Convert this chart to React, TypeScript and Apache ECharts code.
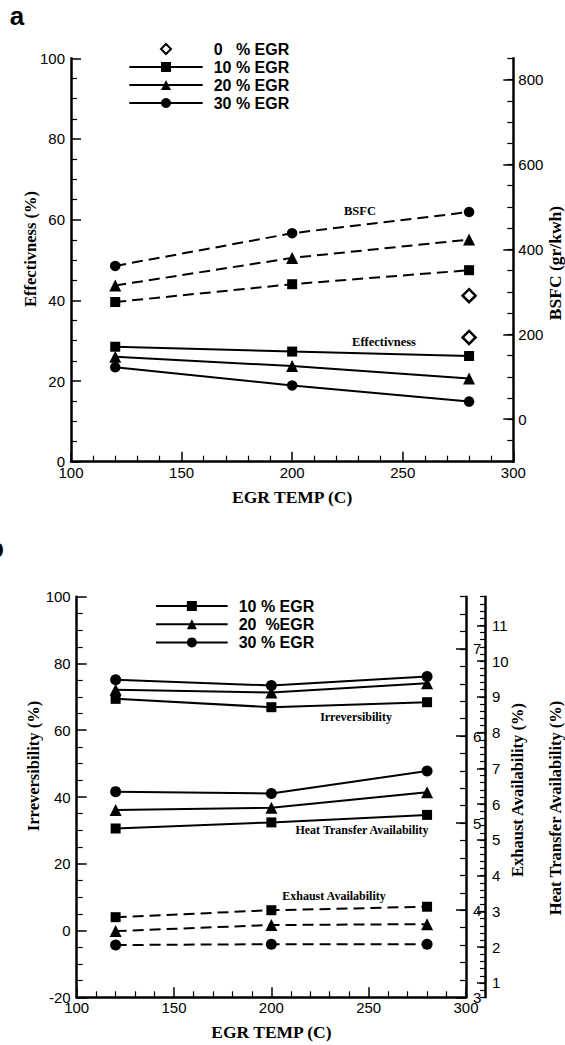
import React, { useEffect, useRef } from "react";
import * as echarts from "echarts";

// ---------- data (chart a) ----------
const tempsA = [120, 200, 280];
const effect10 = [28.5, 27.3, 26.2];
const effect20 = [26.0, 23.7, 20.6];
const effect30 = [23.4, 18.9, 14.9];
const bsfc10 = [276, 318, 351];
const bsfc20 = [315, 380, 423];
const bsfc30 = [361, 438, 488];
const egr0Temp = [280];
const effect0 = [30.8];
const bsfc0 = [291];

// ---------- data (chart b) ----------
const tempsB = [120, 200, 280];
const irr10 = [69.4, 66.9, 68.4];
const irr20 = [72.1, 71.3, 74.1];
const irr30 = [75.1, 73.4, 76.1];
const heat10 = [5.32, 5.49, 5.7];
const heat20 = [5.84, 5.9, 6.33];
const heat30 = [6.35, 6.3, 6.93];
const exh10 = [3.92, 4.0, 4.04];
const exh20 = [3.76, 3.83, 3.84];
const exh30 = [3.6, 3.61, 3.61];

// ---------- tick labels ----------
const bsfcTicks = [0, 200, 400, 600, 800];
const exhTicks = [3, 4, 5, 6, 7];
const heatTicks = [1, 2, 3, 4, 5, 6, 7, 8, 9, 10, 11];

const legendA = ["0\u00a0\u00a0\u00a0% EGR", "10 % EGR", "20 % EGR", "30 % EGR"];
const legendB = ["10 % EGR", "20\u00a0\u00a0%EGR", "30 % EGR"];

const SANS = "Liberation Sans, Arial, Helvetica, sans-serif";
const SERIF = "Liberation Serif, Times New Roman, serif";

const pair = (xs: number[], ys: number[]) => xs.map((x, i) => [x, ys[i]]);

function lineSeries(
  name: string,
  xi: number,
  yi: number,
  data: number[][],
  symbol: string,
  size: number,
  dashed: boolean
) {
  return {
    type: "line",
    name,
    xAxisIndex: xi,
    yAxisIndex: yi,
    data,
    symbol,
    symbolSize: size,
    showSymbol: true,
    silent: true,
    lineStyle: { color: "#000", width: 2, type: dashed ? [11, 6] : "solid" },
    itemStyle: { color: "#000" },
    emphasis: { disabled: true },
  };
}

function diamondSeries(name: string, yi: number, data: number[][]) {
  return {
    type: "line",
    name,
    xAxisIndex: 0,
    yAxisIndex: yi,
    data,
    symbol: "diamond",
    symbolSize: 13,
    showSymbol: true,
    silent: true,
    lineStyle: { width: 0, opacity: 0 },
    itemStyle: { color: "#fff", borderColor: "#000", borderWidth: 2.5 },
    emphasis: { disabled: true },
  };
}

function xAxis(gridIndex: number, title: string, gap: number) {
  return {
    type: "value",
    gridIndex,
    min: 100,
    max: 300,
    interval: 50,
    name: title,
    nameLocation: "middle",
    nameGap: gap,
    nameTextStyle: { color: "#000", fontFamily: SERIF, fontWeight: "bold", fontSize: 17.5 },
    axisLine: { show: true, onZero: false, lineStyle: { color: "#000", width: 2.5 } },
    axisTick: { show: true, inside: true, length: 10, lineStyle: { color: "#000", width: 1.5 } },
    minorTick: { show: true, splitNumber: 5, length: 6, lineStyle: { color: "#000", width: 1.2 } },
    axisLabel: { color: "#000", fontSize: 15, fontFamily: SANS, margin: 3 },
    splitLine: { show: false },
    minorSplitLine: { show: false },
  };
}

function leftAxis(gridIndex: number, min: number, max: number) {
  return {
    type: "value",
    gridIndex,
    position: "left",
    min,
    max,
    interval: 20,
    axisLine: { show: true, onZero: false, lineStyle: { color: "#000", width: 2.5 } },
    axisTick: { show: true, inside: true, length: 10, lineStyle: { color: "#000", width: 1.5 } },
    minorTick: { show: true, splitNumber: 4, length: 6, lineStyle: { color: "#000", width: 1.2 } },
    axisLabel: { color: "#000", fontSize: 15, fontFamily: SANS, margin: 6 },
    splitLine: { show: false },
    minorSplitLine: { show: false },
  };
}

function rightMajor(gridIndex: number, min: number, max: number, ticks: number[], offset: number, len: number, margin: number) {
  return {
    type: "value",
    gridIndex,
    position: "right",
    offset,
    min,
    max,
    axisLine: { show: true, onZero: false, lineStyle: { color: "#000", width: 2.5 } },
    axisTick: { show: true, inside: true, length: len, customValues: ticks, lineStyle: { color: "#000", width: 1.5 } },
    axisLabel: { show: true, color: "#000", fontSize: 15, fontFamily: SANS, margin, customValues: ticks },
    splitLine: { show: false },
  };
}

function rightMinor(gridIndex: number, min: number, max: number, interval: number, offset: number, len: number) {
  return {
    type: "value",
    gridIndex,
    position: "right",
    offset,
    min,
    max,
    interval,
    axisLine: { show: false, onZero: false },
    axisTick: { show: true, inside: true, length: len, lineStyle: { color: "#000", width: 1.2 } },
    axisLabel: { show: false },
    splitLine: { show: false },
  };
}

function txt(text: string, x: number, y: number, font: string, rotation = 0) {
  return {
    type: "text",
    x,
    y,
    rotation,
    silent: true,
    style: { text, x: 0, y: 0, font, fill: "#000", align: "center", verticalAlign: "middle" },
  };
}

export default function App() {
  const ref = useRef<HTMLDivElement>(null);

  useEffect(() => {
    document.body.style.margin = "0";
    const chart = echarts.init(ref.current!, null, { renderer: "svg" });

    const legendCommon = {
      orient: "vertical",
      padding: 0,
      itemHeight: 12.5,
      itemGap: 2,
      selectedMode: false,
      textStyle: {
        color: "#000",
        fontSize: 16,
        fontWeight: "bold",
        fontFamily: SANS,
        lineHeight: 12,
        padding: [0, 0, 0, 6],
      },
    };

    const option = {
      animation: false,
      backgroundColor: "#fff",
      grid: [
        { left: 71, top: 58.3, width: 442.3, height: 403.4 },
        { left: 76.7, top: 596.7, width: 389.3, height: 400.6 },
      ],
      legend: [
        { ...legendCommon, left: 128.3, top: 41, itemWidth: 73.4, data: legendA },
        { ...legendCommon, left: 155, top: 598, itemWidth: 71.7, itemGap: 2.2, data: legendB },
      ],
      xAxis: [xAxis(0, "EGR TEMP (C)", 26.5), xAxis(1, "EGR TEMP (C)", 25.5)],
      yAxis: [
        leftAxis(0, 0, 100), // 0 effectiveness
        rightMajor(0, -100, 850, bsfcTicks, 0, 10, 5), // 1 BSFC
        rightMinor(0, -100, 850, 50, 0, 6), // 2 BSFC minor ticks
        leftAxis(1, -20, 100), // 3 irreversibility
        rightMajor(1, 3, 7.6, exhTicks, 0, 10, 7), // 4 exhaust availability
        rightMinor(1, 3, 7.6, 0.2, 0, 6), // 5 exhaust minor ticks
        rightMajor(1, 0.6, 11.8, heatTicks, 19, 8, 7), // 6 heat transfer availability
        rightMinor(1, 0.6, 11.8, 0.2, 19, 5), // 7 heat transfer minor ticks
      ],
      series: [
        lineSeries(legendA[1], 0, 0, pair(tempsA, effect10), "rect", 10, false),
        lineSeries(legendA[2], 0, 0, pair(tempsA, effect20), "triangle", 12, false),
        lineSeries(legendA[3], 0, 0, pair(tempsA, effect30), "circle", 10.5, false),
        lineSeries(legendA[1], 0, 1, pair(tempsA, bsfc10), "rect", 10, true),
        lineSeries(legendA[2], 0, 1, pair(tempsA, bsfc20), "triangle", 12, true),
        lineSeries(legendA[3], 0, 1, pair(tempsA, bsfc30), "circle", 10.5, true),
        diamondSeries(legendA[0], 0, pair(egr0Temp, effect0)),
        diamondSeries(legendA[0], 1, pair(egr0Temp, bsfc0)),
        lineSeries(legendB[0], 1, 3, pair(tempsB, irr10), "rect", 10, false),
        lineSeries(legendB[1], 1, 3, pair(tempsB, irr20), "triangle", 12, false),
        lineSeries(legendB[2], 1, 3, pair(tempsB, irr30), "circle", 11, false),
        lineSeries(legendB[0], 1, 6, pair(tempsB, heat10), "rect", 10, false),
        lineSeries(legendB[1], 1, 6, pair(tempsB, heat20), "triangle", 12, false),
        lineSeries(legendB[2], 1, 6, pair(tempsB, heat30), "circle", 11, false),
        lineSeries(legendB[0], 1, 4, pair(tempsB, exh10), "rect", 10, true),
        lineSeries(legendB[1], 1, 4, pair(tempsB, exh20), "triangle", 12, true),
        lineSeries(legendB[2], 1, 4, pair(tempsB, exh30), "circle", 11, true),
      ],
      graphic: [
        txt("a", 17, 16, `bold 26px ${SANS}`),
        txt("b", -4, 548, `bold 26px ${SANS}`),
        txt("Effectivness (%)", 30, 249, `bold 16.5px ${SERIF}`, Math.PI / 2),
        txt("BSFC (gr/kwh)", 555, 263, `bold 17.5px ${SERIF}`, Math.PI / 2),
        txt("BSFC", 360, 211, `bold 12.5px ${SERIF}`),
        txt("Effectivness", 384, 342, `bold 12.5px ${SERIF}`),
        txt("Irreversibility (%)", 33, 766, `bold 16.5px ${SERIF}`, Math.PI / 2),
        txt("Exhaust Availability (%)", 517, 790, `bold 16.5px ${SERIF}`, Math.PI / 2),
        txt("Heat Transfer Availability (%)", 555, 808, `bold 16.5px ${SERIF}`, Math.PI / 2),
        txt("Irreversibility", 356, 717, `bold 12px ${SERIF}`),
        txt("Heat Transfer Availability", 362, 830, `bold 12px ${SERIF}`),
        txt("Exhaust Availability", 334, 896, `bold 12px ${SERIF}`),
      ],
    };

    chart.setOption(option as any);
    return () => chart.dispose();
  }, []);

  return <div ref={ref} style={{ width: 565, height: 1045 }} />;
}
